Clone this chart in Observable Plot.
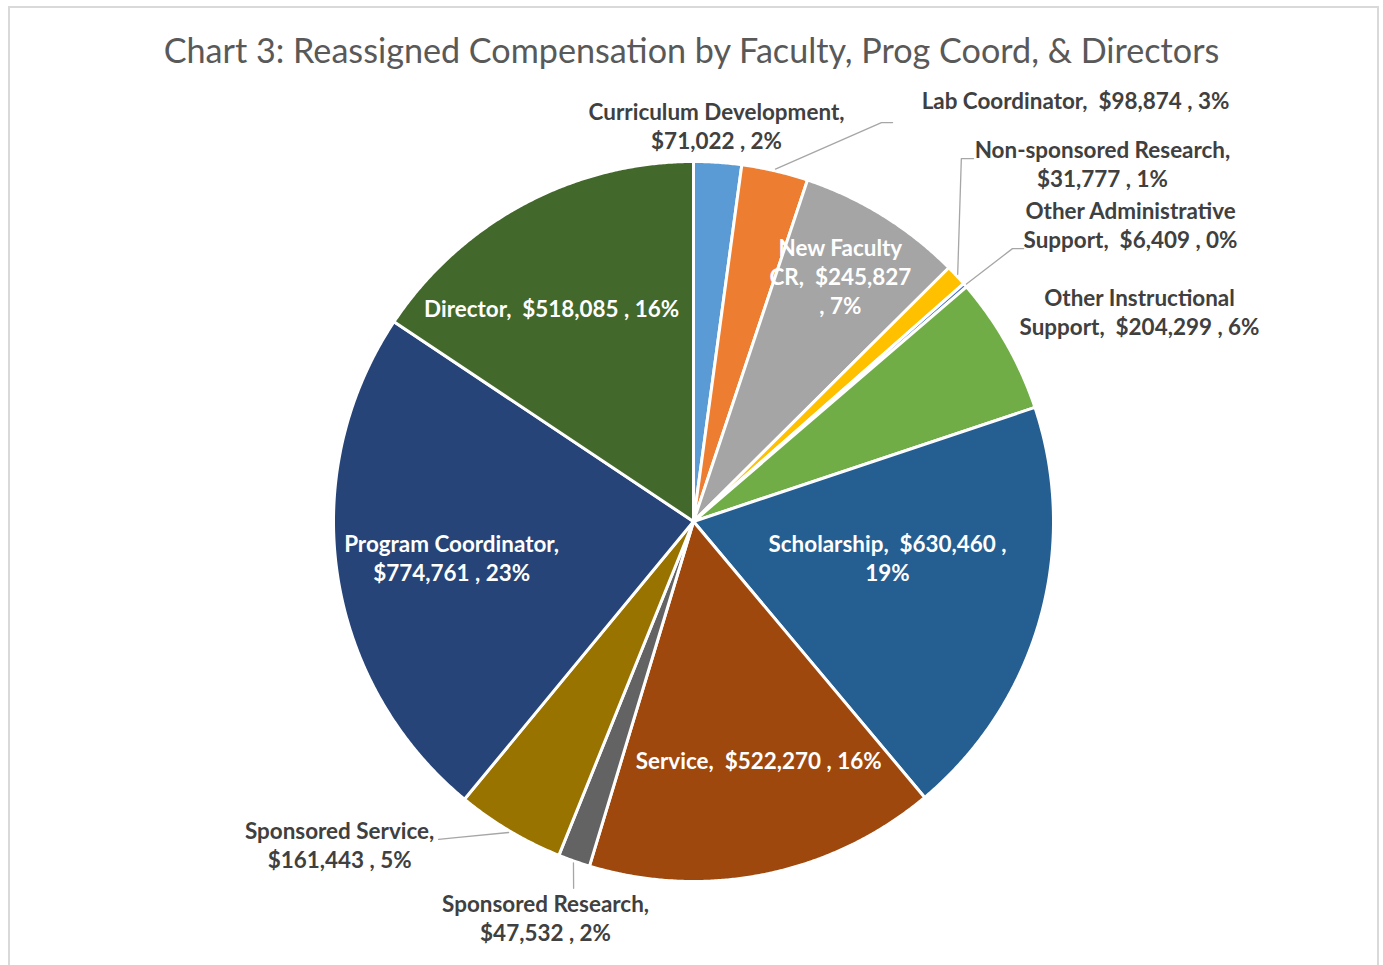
<!DOCTYPE html>
<html><head><meta charset="utf-8">
<script src="https://cdn.jsdelivr.net/npm/d3@7"></script>
<script src="https://cdn.jsdelivr.net/npm/@observablehq/plot@0.6"></script>
<style>
body{margin:0;background:#fff;font-family:Lato,"Open Sans",sans-serif;}
#frame{position:absolute;left:8px;top:6px;width:1371px;height:990px;border:2px solid #d9d9d9;box-sizing:border-box;}
#wrap{position:relative;width:1383px;}
#title{height:88px;box-sizing:border-box;padding-top:30px;text-align:center;line-height:40px;color:#595959;white-space:nowrap;}
svg text{white-space:pre;}
</style></head><body>
<div id="frame"></div>
<div id="wrap"><div id="title">Chart 3: Reassigned Compensation by Faculty, Prog Coord, &amp; Directors</div><div id="chart"></div></div>
<script>
// ---- data ----
const categories = ["Curriculum Development","Lab Coordinator","New Faculty CR","Non-sponsored Research","Other Administrative Support","Other Instructional Support","Scholarship","Service","Sponsored Research","Sponsored Service","Program Coordinator","Director"];
const values = [71022,98874,245827,31777,6409,204299,630460,522270,47532,161443,774761,518085];
const percents = [2,3,7,1,0,6,19,16,2,5,23,16];
const colors = ["#5B9BD5","#ED7D31","#A5A5A5","#FFC000","#4472C4","#70AD47","#255E91","#9E480E","#636363","#997300","#264478","#43682B"];

// ---- layout (label positions in radius units, y up; formats) ----
const layout = [
  {pos:[0.064,1.093], fmt:"{n},\n{v} , {p}", inside:false},
  {pos:[1.061,1.164], fmt:"{n},  {v} , {p}", inside:false, leader:[[0.522,1.108],[0.553,1.108]]},
  {pos:[0.408,0.674], fmt:"{n},  {v}\n, {p}", brk:2, inside:true},
  {pos:[1.136,0.9875], fmt:"{n},\n{v} , {p}", inside:false, leader:[[0.744,1.008],[0.778,1.008]]},
  {pos:[1.214,0.817], fmt:"{n},  {v} , {p}", brk:2, inside:false, leader:[[0.886,0.758],[0.917,0.758]]},
  {pos:[1.239,0.576], fmt:"{n},  {v} , {p}", brk:2, inside:false},
  {pos:[0.539,-0.108], fmt:"{n},  {v} ,\n{p}", inside:true},
  {pos:[0.181,-0.669], fmt:"{n},  {v} , {p}", inside:true},
  {pos:[-0.411,-1.107], fmt:"{n},\n{v} , {p}", inside:false, leader:[[-0.333,-1.019]]},
  {pos:[-0.983,-0.906], fmt:"{n},\n{v} , {p}", inside:false, leader:[[-0.66,-0.878],[-0.708,-0.883]]},
  {pos:[-0.672,-0.107], fmt:"{n},\n{v} , {p}", inside:true},
  {pos:[-0.394,0.586], fmt:"{n},  {v} , {p}", inside:true}
];

const R = 360, cx = 693, cy = 433, W = 1383, H = 877;

// font fitting
const ctx = document.createElement("canvas").getContext("2d");
function fit(text, weight, target){ ctx.font = `${weight} 100px Lato`; return 100*target/ctx.measureText(text).width; }
const titleSize = fit("Chart 3: Reassigned Compensation by Faculty, Prog Coord, & Directors", "normal", 1057);
document.getElementById("title").style.fontSize = titleSize + "px";
const labelSize = fit("Curriculum Development,", "bold", 256);
const lineH = 29 / labelSize;

const pie = d3.pie().sort(null).value(d => d)(values);
const money = d3.format("$,");

// slice polygons
const poly = [];
pie.forEach((a, i) => {
  const cat = categories[i];
  poly.push({cat, x:0, y:0});
  const n = Math.max(2, Math.ceil((a.endAngle - a.startAngle) / 0.005));
  for (let k = 0; k <= n; k++) {
    const t = a.startAngle + (a.endAngle - a.startAngle) * k / n;
    poly.push({cat, x: Math.sin(t), y: Math.cos(t)});
  }
});

// labels
const labels = categories.map((c, i) => {
  const L = layout[i];
  let name = c;
  if (L.brk) { const w = c.split(" "); name = w.slice(0, L.brk).join(" ") + "\n" + w.slice(L.brk).join(" "); }
  const text = L.fmt.replace("{n}", name).replace("{v}", money(values[i])).replace("{p}", percents[i] + "%");
  return {cat: c, x: L.pos[0], y: L.pos[1], text, inside: L.inside};
});

// leaders
const leaders = [];
pie.forEach((a, i) => {
  const L = layout[i];
  if (!L.leader) return;
  const m = (a.startAngle + a.endAngle) / 2;
  leaders.push({cat: categories[i], x: Math.sin(m) * 1.005, y: Math.cos(m) * 1.005});
  L.leader.forEach(p => leaders.push({cat: categories[i], x: p[0], y: p[1]}));
});

const chart = Plot.plot({
  width: W, height: H, margin: 0,
  x: {domain: [-1, 1], range: [cx - R, cx + R], axis: null},
  y: {domain: [-1, 1], range: [cy + R, cy - R], axis: null},
  color: {domain: categories, range: colors},
  style: {fontFamily: "Lato, 'Open Sans', sans-serif", background: "transparent"},
  marks: [
    Plot.line(poly, {x: "x", y: "y", z: "cat", fill: "cat", stroke: "white", strokeWidth: 3, strokeLinejoin: "round", curve: "linear-closed"}),
    Plot.line(leaders, {x: "x", y: "y", z: "cat", stroke: "#a6a6a6", strokeWidth: 1.3}),
    Plot.text(labels.filter(d => !d.inside), {x: "x", y: "y", dy: -3, text: "text", fill: "#404040", fontSize: labelSize, fontWeight: "bold", lineHeight: lineH}),
    Plot.text(labels.filter(d => d.inside), {x: "x", y: "y", dy: -3, text: "text", fill: "white", fontSize: labelSize, fontWeight: "bold", lineHeight: lineH})
  ]
});
document.getElementById("chart").appendChild(chart);
</script>
</body></html>
